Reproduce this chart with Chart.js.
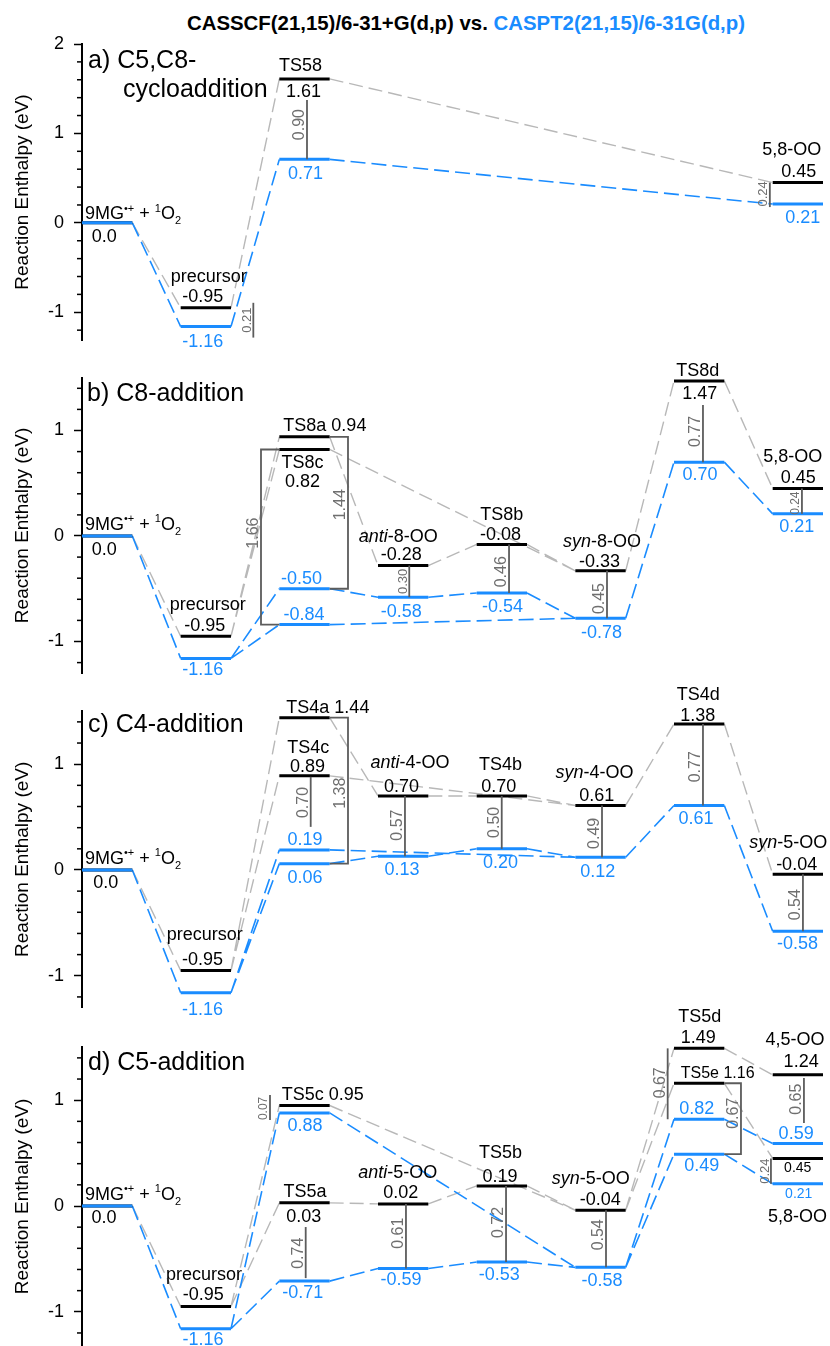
<!DOCTYPE html>
<html lang="en">
<head>
<meta charset="UTF-8">
<title>Reaction enthalpy profiles</title>
<script src="https://cdn.jsdelivr.net/npm/chart.js"></script>
<style>
    * { margin: 0; padding: 0; box-sizing: border-box; }
    body {
        width: 830px;
        height: 1346px;
        position: relative;
        overflow: hidden;
        background: #fff;
        font-family: "Liberation Sans", Arial, sans-serif;
    }
    #title {
        position: absolute;
        top: 13px;
        left: 66px;
        width: 800px;
        text-align: center;
        font-size: 20.4px;
        line-height: 20px;
        font-weight: bold;
        white-space: nowrap;
        color: #000;
    }
    #title span { color: #1a8cff; }
    canvas { position: absolute; left: 0; }
</style>
</head>
<body>
<div id="title">CASSCF(21,15)/6-31+G(d,p) vs. <span>CASPT2(21,15)/6-31G(d,p)</span></div>
<canvas id="pa"></canvas>
<canvas id="pb"></canvas>
<canvas id="pc"></canvas>
<canvas id="pd"></canvas>

<script>
// ---------- data (eV) ----------
// a) C5,C8-cycloaddition
const aHeading = ['a) C5,C8-', 'cycloaddition'];
const aNames  = ['9MG^{•+} + ^{1}O_{2}', 'precursor', 'TS58', '5,8-OO'];
const aSlots  = [0, 1, 2, 7];
const aCasscf = [0.0, -0.95, 1.61, 0.45];
const aCaspt2 = [0.0, -1.16, 0.71, 0.21];
const aLinks  = [[0, 1], [1, 2], [2, 3]];
const aTicks  = [-1, 0, 1, 2];

// b) C8-addition
const bHeading = ['b) C8-addition'];
const bNames  = ['9MG^{•+} + ^{1}O_{2}', 'precursor', 'TS8a', 'TS8c', 'anti-8-OO', 'TS8b', 'syn-8-OO', 'TS8d', '5,8-OO'];
const bSlots  = [0, 1, 2, 2, 3, 4, 5, 6, 7];
const bCasscf = [0.0, -0.95, 0.94, 0.82, -0.28, -0.08, -0.33, 1.47, 0.45];
const bCaspt2 = [0.0, -1.16, -0.50, -0.84, -0.58, -0.54, -0.78, 0.70, 0.21];
const bLinks  = [[0, 1], [1, 2], [1, 3], [2, 4], [4, 5], [5, 6], [3, 6], [6, 7], [7, 8]];
const bTicks  = [-1, 0, 1];

// c) C4-addition
const cHeading = ['c) C4-addition'];
const cNames  = ['9MG^{•+} + ^{1}O_{2}', 'precursor', 'TS4a', 'TS4c', 'anti-4-OO', 'TS4b', 'syn-4-OO', 'TS4d', 'syn-5-OO'];
const cSlots  = [0, 1, 2, 2, 3, 4, 5, 6, 7];
const cCasscf = [0.0, -0.95, 1.44, 0.89, 0.70, 0.70, 0.61, 1.38, -0.04];
const cCaspt2 = [0.0, -1.16, 0.06, 0.19, 0.13, 0.20, 0.12, 0.61, -0.58];
const cLinks  = [[0, 1], [1, 2], [1, 3], [2, 4], [4, 5], [5, 6], [3, 6], [6, 7], [7, 8]];
const cTicks  = [-1, 0, 1];

// d) C5-addition
const dHeading = ['d) C5-addition'];
const dNames  = ['9MG^{•+} + ^{1}O_{2}', 'precursor', 'TS5c', 'TS5a', 'anti-5-OO', 'TS5b', 'syn-5-OO', 'TS5d', 'TS5e', '4,5-OO', '5,8-OO'];
const dSlots  = [0, 1, 2, 2, 3, 4, 5, 6, 6, 7, 7];
const dCasscf = [0.0, -0.95, 0.95, 0.03, 0.02, 0.19, -0.04, 1.49, 1.16, 1.24, 0.45];
const dCaspt2 = [0.0, -1.16, 0.88, -0.71, -0.59, -0.53, -0.58, 0.82, 0.49, 0.59, 0.21];
const dLinks  = [[0, 1], [1, 2], [1, 3], [3, 4], [4, 5], [5, 6], [2, 6], [6, 7], [6, 8], [7, 9], [8, 10]];
const dTicks  = [-1, 0, 1];

// ---------- label placement (pixel offsets from each level) ----------
// [state, kind, dx, dy, fontSize]
// kinds: mg = reactant (left aligned), n = name over CASSCF level, nb = name under CASPT2 level,
//        c = CASSCF value, p = CASPT2 value, nc = "name value" left aligned
const aText = [
    [0, 'mg', 3, -3.5], [0, 'c', -3, 19],
    [1, 'n', 3, -26], [1, 'c', -3, -6], [1, 'p', -3, 20],
    [2, 'n', -4, -8], [2, 'c', -1, 18], [2, 'p', 1, 20],
    [3, 'n', -6, -28], [3, 'c', 1, -6], [3, 'p', 5, 18.5]
];
const bText = [
    [0, 'mg', 3, -6], [0, 'c', -3, 19],
    [1, 'n', 2, -26], [1, 'c', -1, -5], [1, 'p', -3, 16.5],
    [2, 'nc', 4, -6], [2, 'p', -3, -4.5],
    [3, 'n', -2, 19], [3, 'c', -2, 38], [3, 'p', -0.5, -5],
    [4, 'n', -5, -24], [4, 'c', -2, -5.5], [4, 'p', -2, 19.5],
    [5, 'n', 0, -24.4], [5, 'c', -1.3, -4.4], [5, 'p', 0.7, 18.7],
    [6, 'n', 1.5, -24], [6, 'c', -1, -4], [6, 'p', 1, 20],
    [7, 'n', -1.5, -5], [7, 'c', 0.5, 18.4], [7, 'p', 0.8, 18],
    [8, 'n', -5, -27], [8, 'c', 0.4, -6], [8, 'p', -1, 18]
];
const cText = [
    [0, 'mg', 3, -6], [0, 'c', -1.5, 18.3],
    [1, 'n', -1, -30.5], [1, 'c', -3.3, -5.5], [1, 'p', -3.3, 22],
    [2, 'nc', 7, -5], [2, 'p', 0.5, 19],
    [3, 'n', 3.8, -22.5], [3, 'c', 3, -4], [3, 'p', 0.5, -5],
    [4, 'n', 6.8, -27.6], [4, 'c', -1.7, -4], [4, 'p', -1.2, 19],
    [5, 'n', -1.3, -26], [5, 'c', -3, -4], [5, 'p', -1.3, 19.5],
    [6, 'n', -6, -27], [6, 'c', -3.8, -4], [6, 'p', -2.7, 19.4],
    [7, 'n', -1, -24], [7, 'c', -1.4, -3.3], [7, 'p', -3.2, 19],
    [8, 'n', -9.6, -26], [8, 'c', -1.2, -4.2], [8, 'p', -0.4, 18]
];
const dText = [
    [0, 'mg', 3, -6], [0, 'c', -3.2, 17.3],
    [1, 'n', -1.8, -26.5], [1, 'c', -2.5, -6.5], [1, 'p', -2.8, 16.3],
    [2, 'nc', 2.4, -5.5], [2, 'p', 0.5, 17.8],
    [3, 'n', 0.5, -6], [3, 'c', -0.7, 19], [3, 'p', -1.8, 17.2],
    [4, 'n', -5.4, -25.6], [4, 'c', -2.4, -5.6], [4, 'p', -2.2, 16.6],
    [5, 'n', -1.3, -27.6], [5, 'c', -1.8, -4.2], [5, 'p', -2.6, 18],
    [6, 'n', -9.7, -26], [6, 'c', -0.2, -5], [6, 'p', 1.5, 18.6],
    [7, 'n', 0.5, -26.7], [7, 'c', -0.9, -5], [7, 'p', -2.5, -5.2],
    [8, 'nc', 6.7, -5, 16], [8, 'p', 2.5, 16.5],
    [9, 'n', -2.9, -29.8], [9, 'c', 3.3, -7.5], [9, 'p', -1.7, -4.3],
    [10, 'c', -0.1, 13.3, 14], [10, 'p', 0.9, 14.5, 14], [10, 'nb', -0.4, 38]
];

// difference markers: [state, dx of line, top offset, bottom offset, caps, label dy, font size]
const aBrackets = [
    [1, 47.5, -5, 11, '', 0, 13],
    [2, 2.5, 21, 0, '', -5, 16],
    [3, -28, 0, 3, '', -1, 13]
];
const bBrackets = [
    [3, -43.5, 0, 0, 'l', -4, 16],
    [2, 43.5, 0, 0, 'r', -8, 16],
    [4, 6.1, 0, 0, '', 0, 13],
    [5, 7.2, 0, 0, '', 3, 16],
    [6, 6.5, 0, 0, '', 4, 16],
    [7, 3.8, 24, 0, '', -2, 16],
    [8, 4.1, 0, 0, '', 2, 12]
];
const cBrackets = [
    [2, 43.5, 0, 0, 'r', 2.6, 16],
    [3, 6.2, 1, -23, '', 0.6, 16],
    [4, 1.8, 0, 0, '', -1, 16],
    [5, -0.1, 0, 0, '', 0, 16],
    [6, 1.5, 0, 0, '', 2, 16],
    [7, 3.8, 0, 0, '', 2, 16],
    [8, 5.1, 0, 0, '', 2, 16]
];
const dBrackets = [
    [2, -34.5, -10.5, 7, '', 1, 12],
    [3, 1.2, 24.2, -3, '', 0.7, 16],
    [4, 2.8, 0, 0, '', -3, 16],
    [5, 4.2, 0, 0, '', -1.5, 16],
    [6, 5.5, 0, 0, '', -4, 16],
    [7, -31.5, 0, 0, '', -1, 16],
    [8, 41.8, 0, 0, 'r', -5.5, 16],
    [9, 6.1, 3.2, -20.6, '', -1.3, 16],
    [10, -26.9, 0, 0, '', 0, 13]
];

// ---------- styles ----------
const FONT = '"Liberation Sans", Arial, sans-serif';
const BLUE = '#1a8cff';
const GRAY_LINK = '#b8b8b8';
const BRACKET = '#5c5c5c';
const BRACKET_TEXT = '#6f6f6f';
const levelWidth = 0.51;

const panels = [
    { id: 'pa', heading: aHeading, headingPos: [[6, 24], [41, 53]], names: aNames, slots: aSlots,
      casscf: aCasscf, caspt2: aCaspt2, links: aLinks, ticks: aTicks, texts: aText, brackets: aBrackets,
      yMin: -1.31, yMax: 2.0, box: { top: 0, height: 355, areaTop: 44, areaBottom: 340 } },
    { id: 'pb', heading: bHeading, headingPos: [[5, 23]], names: bNames, slots: bSlots,
      casscf: bCasscf, caspt2: bCaspt2, links: bLinks, ticks: bTicks, texts: bText, brackets: bBrackets,
      yMin: -1.3, yMax: 1.5, box: { top: 340, height: 340, areaTop: 377.75, areaBottom: 673.15 } },
    { id: 'pc', heading: cHeading, headingPos: [[6, 20.4]], names: cNames, slots: cSlots,
      casscf: cCasscf, caspt2: cCaspt2, links: cLinks, ticks: cTicks, texts: cText, brackets: cBrackets,
      yMin: -1.3, yMax: 1.5, box: { top: 680, height: 340, areaTop: 711.3, areaBottom: 1007.5 } },
    { id: 'pd', heading: dHeading, headingPos: [[6, 22.7]], names: dNames, slots: dSlots,
      casscf: dCasscf, caspt2: dCaspt2, links: dLinks, ticks: dTicks, texts: dText, brackets: dBrackets,
      yMin: -1.32, yMax: 1.5, box: { top: 1000, height: 346, areaTop: 1047.3, areaBottom: 1345.66 } }
];

// ---------- text helpers ----------
function fmt(v) {
    return v === 0 ? '0.0' : v.toFixed(2);
}

// ^{..} superscript, _{..} subscript, anti-/syn- prefix in italics
function parseLabel(text) {
    const m = text.match(/^(anti|syn)(-.*)$/);
    if (m) return [{ t: m[1], italic: true }, { t: m[2] }];
    const parts = [];
    text.split(/(\^\{[^}]*\}|_\{[^}]*\})/).forEach(s => {
        if (!s) return;
        if (s[0] === '^') parts.push({ t: s.slice(2, -1), sup: true });
        else if (s[0] === '_') parts.push({ t: s.slice(2, -1), sub: true });
        else parts.push({ t: s });
    });
    return parts;
}

function drawRich(ctx, parts, x, y, size, color, align) {
    const fontFor = p => (p.italic ? 'italic ' : '') + ((p.sup || p.sub) ? Math.round(size * 0.6) : size) + 'px ' + FONT;
    let w = 0;
    parts.forEach(p => { ctx.font = fontFor(p); p.w = ctx.measureText(p.t).width; w += p.w; });
    let cx = align === 'center' ? x - w / 2 : x;
    ctx.fillStyle = color;
    ctx.textAlign = 'left';
    ctx.textBaseline = 'alphabetic';
    parts.forEach(p => {
        ctx.font = fontFor(p);
        const dy = p.sup ? -size * 0.42 : (p.sub ? size * 0.28 : 0);
        ctx.fillText(p.t, cx, y + dy);
        cx += p.w;
    });
}

// ---------- plugin: axis minor ticks, headings, labels, difference markers ----------
function diagramPlugin(p) {
    return {
        id: 'diagram_' + p.id,
        afterDraw(chart) {
            const ctx = chart.ctx;
            const xs = chart.scales.x, ys = chart.scales.y;
            const area = chart.chartArea;
            const start = i => xs.getPixelForValue(p.slots[i]);
            const end = i => xs.getPixelForValue(p.slots[i] + levelWidth);
            const mid = i => (start(i) + end(i)) / 2;
            ctx.save();

            // minor ticks every 0.2
            ctx.strokeStyle = '#000';
            ctx.lineWidth = 1.5;
            for (let k = Math.ceil(p.yMin * 5); k <= Math.floor(p.yMax * 5); k++) {
                if (k % 5 === 0) continue;
                const y = ys.getPixelForValue(k / 5);
                ctx.beginPath();
                ctx.moveTo(area.left - 5, y);
                ctx.lineTo(area.left, y);
                ctx.stroke();
            }

            // panel heading
            p.heading.forEach((t, j) => {
                drawRich(ctx, [{ t }], area.left + p.headingPos[j][0], area.top + p.headingPos[j][1], 25, '#000', 'left');
            });

            // difference markers
            p.brackets.forEach(([i, dx, topOff, botOff, caps, labelDy, size]) => {
                const x = mid(i) + dx;
                const yTop = ys.getPixelForValue(p.casscf[i]) + topOff;
                const yBot = ys.getPixelForValue(p.caspt2[i]) + botOff;
                ctx.strokeStyle = BRACKET;
                ctx.lineWidth = 1.8;
                ctx.setLineDash([]);
                ctx.beginPath();
                if (caps === 'r' || caps === 'l') {
                    const edge = caps === 'r' ? end(i) : start(i);
                    ctx.moveTo(edge, yTop);
                    ctx.lineTo(x, yTop);
                    ctx.lineTo(x, yBot);
                    ctx.lineTo(edge, yBot);
                } else {
                    ctx.moveTo(x, yTop);
                    ctx.lineTo(x, yBot);
                }
                ctx.stroke();
                ctx.save();
                ctx.translate(x - (size > 14 ? 7.5 : 6), (yTop + yBot) / 2 + labelDy);
                ctx.rotate(-Math.PI / 2);
                ctx.font = size + 'px ' + FONT;
                ctx.fillStyle = BRACKET_TEXT;
                ctx.textAlign = 'center';
                ctx.textBaseline = 'middle';
                ctx.fillText((p.casscf[i] - p.caspt2[i]).toFixed(2), 0, 0);
                ctx.restore();
            });

            // level labels
            p.texts.forEach(([i, kind, dx, dy, size = 18]) => {
                const yc = ys.getPixelForValue(p.casscf[i]);
                const yp = ys.getPixelForValue(p.caspt2[i]);
                if (kind === 'mg') drawRich(ctx, parseLabel(p.names[i]), start(i) + dx, yc + dy, size, '#000', 'left');
                else if (kind === 'n') drawRich(ctx, parseLabel(p.names[i]), mid(i) + dx, yc + dy, size, '#000', 'center');
                else if (kind === 'nb') drawRich(ctx, parseLabel(p.names[i]), mid(i) + dx, yp + dy, size, '#000', 'center');
                else if (kind === 'c') drawRich(ctx, [{ t: fmt(p.casscf[i]) }], mid(i) + dx, yc + dy, size, '#000', 'center');
                else if (kind === 'p') drawRich(ctx, [{ t: fmt(p.caspt2[i]) }], mid(i) + dx, yp + dy, size, BLUE, 'center');
                else if (kind === 'nc') drawRich(ctx, [{ t: p.names[i] + ' ' + fmt(p.casscf[i]) }], start(i) + dx, yc + dy, size, '#000', 'left');
            });
            ctx.restore();
        }
    };
}

// ---------- charts ----------
function buildChart(p) {
    const canvas = document.getElementById(p.id);
    canvas.width = 830;
    canvas.height = p.box.height;
    canvas.style.top = p.box.top + 'px';

    const levelsBlack = [], levelsBlue = [], linksBlack = [], linksBlue = [];
    p.slots.forEach((s, i) => {
        levelsBlack.push({ x: s, y: p.casscf[i] }, { x: s + levelWidth, y: p.casscf[i] }, { x: s + levelWidth, y: null });
        levelsBlue.push({ x: s, y: p.caspt2[i] }, { x: s + levelWidth, y: p.caspt2[i] }, { x: s + levelWidth, y: null });
    });
    p.links.forEach(([a, b]) => {
        linksBlack.push({ x: p.slots[a] + levelWidth, y: p.casscf[a] }, { x: p.slots[b], y: p.casscf[b] }, { x: p.slots[b], y: null });
        linksBlue.push({ x: p.slots[a] + levelWidth, y: p.caspt2[a] }, { x: p.slots[b], y: p.caspt2[b] }, { x: p.slots[b], y: null });
    });

    const common = { pointRadius: 0, fill: false, tension: 0, clip: false, spanGaps: false, borderCapStyle: 'butt' };

    return new Chart(canvas.getContext('2d'), {
        type: 'line',
        data: {
            datasets: [
                { ...common, data: levelsBlue, borderColor: BLUE, borderWidth: 3, order: 0 },
                { ...common, data: levelsBlack, borderColor: '#000', borderWidth: 3, order: 1 },
                { ...common, data: linksBlue, borderColor: BLUE, borderWidth: 1.6, borderDash: [15, 6], order: 2 },
                { ...common, data: linksBlack, borderColor: GRAY_LINK, borderWidth: 1.4, borderDash: [14, 6], order: 3 }
            ]
        },
        options: {
            responsive: false,
            animation: false,
            events: [],
            layout: {
                padding: { top: p.box.areaTop - p.box.top, bottom: p.box.top + p.box.height - p.box.areaBottom, left: 0, right: 7 }
            },
            plugins: { legend: { display: false }, tooltip: { enabled: false } },
            scales: {
                x: { type: 'linear', min: 0, max: 7.51, display: false },
                y: {
                    min: p.yMin,
                    max: p.yMax,
                    afterFit(scale) {
                        // fixed axis band; tick labels may overhang the plot area
                        scale.width = 82;
                        scale.paddingTop = 0;
                        scale.paddingBottom = 0;
                    },
                    afterBuildTicks(scale) { scale.ticks = p.ticks.map(v => ({ value: v })); },
                    ticks: {
                        color: '#000',
                        font: { size: 18, family: FONT },
                        padding: 10,
                        autoSkip: false,
                        includeBounds: false,
                        callback: v => String(v)
                    },
                    grid: { drawOnChartArea: false, drawTicks: true, tickLength: 8, tickColor: '#000', tickWidth: 1.5 },
                    border: { display: true, color: '#000', width: 2 },
                    title: {
                        display: true,
                        text: 'Reaction Enthalpy (eV)',
                        color: '#000',
                        font: { size: 19, family: FONT },
                        padding: { top: 11, bottom: 0 }
                    }
                }
            }
        },
        plugins: [diagramPlugin(p)]
    });
}

panels.forEach(buildChart);
</script>
</body>
</html>
